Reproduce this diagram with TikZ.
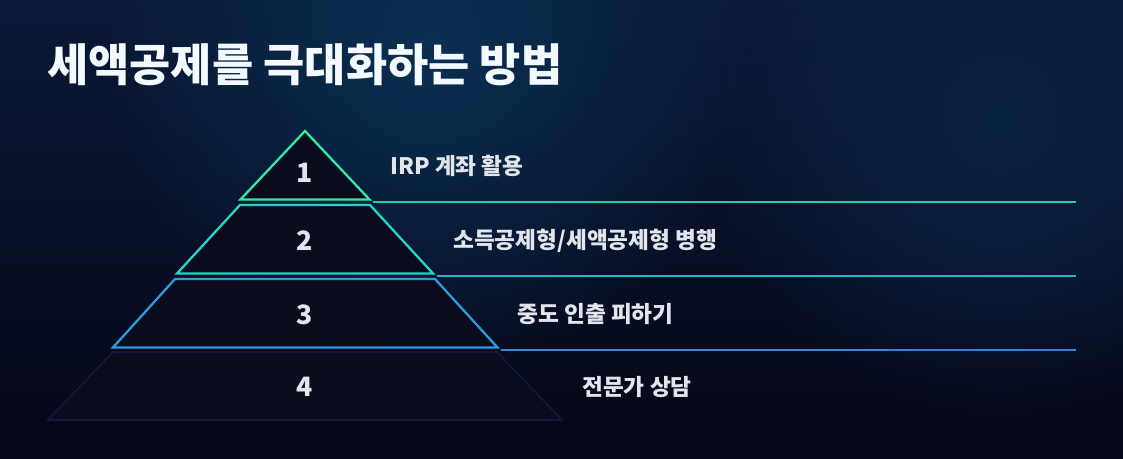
\documentclass[tikz,border=0pt]{standalone}
\usepackage{fontspec}
\newfontfamily\krfont{Noto Sans CJK KR}
\usepackage{xcolor}
\usetikzlibrary{fadings}

\definecolor{bgtop}{HTML}{0A1836}
\definecolor{bgbot}{HTML}{050717}
\definecolor{glowcol}{HTML}{0B3052}
\definecolor{glowright}{HTML}{0C2444}
\definecolor{layerfill}{HTML}{0A0B1C}
\definecolor{tierone}{HTML}{2EEBA6}
\definecolor{tiertwo}{HTML}{22D6C6}
\definecolor{tierthree}{HTML}{2C9BE0}
\definecolor{tierfour}{HTML}{0F1B3C}
\definecolor{guideone}{HTML}{20CFA6}
\definecolor{guidetwo}{HTML}{1FB9C9}
\definecolor{guidethree}{HTML}{3586CF}
\definecolor{labeltext}{HTML}{E3E5EC}
\definecolor{titletext}{HTML}{F2F9FF}

\tikzfading[name=glowfade, inner color=transparent!0, outer color=transparent!100]

\begin{document}
\begin{tikzpicture}[
    x=0.75pt, y=-0.75pt,
    font=\krfont,
    layer/.style={
        fill=layerfill,
        line width=1.7pt,
        line join=miter
    },
    tiernum/.style={
        inner sep=0pt,
        font=\krfont\bfseries\fontsize{20}{22}\selectfont,
        text=labeltext
    },
    tierlabel/.style={
        anchor=west,
        inner sep=0pt,
        font=\krfont\bfseries\fontsize{17}{20}\selectfont,
        text=labeltext
    },
    guide/.style={
        line width=1.5pt
    }
]

% =========================================================
% Background
% =========================================================
\useasboundingbox (0,0) rectangle (1123,458);
\shade[top color=bgtop, bottom color=bgbot] (0,0) rectangle (1123,458);
\begin{scope}
    \clip (0,0) rectangle (1123,458);
    \fill[glowcol, path fading=glowfade] (430,40) circle (330);
    \fill[glowright, path fading=glowfade] (1000,120) circle (300);
\end{scope}

% =========================================================
% Title
% =========================================================
\node[anchor=west, inner sep=0pt, text=titletext,
      font=\krfont\bfseries\fontsize{33.6}{38}\selectfont] (title) at (47,64.5)
{세액공제를 극대화하는 방법};

% =========================================================
% Pyramid layers
% =========================================================
\coordinate (t1apex)  at (305,131);
\coordinate (t1left)  at (240.5,199.5);
\coordinate (t1right) at (369.5,199.5);

\coordinate (t2tl) at (240,205);
\coordinate (t2tr) at (370,205);
\coordinate (t2bl) at (177,273.5);
\coordinate (t2br) at (433,273.5);

\coordinate (t3tl) at (175,279);
\coordinate (t3tr) at (435,279);
\coordinate (t3bl) at (113,347.5);
\coordinate (t3br) at (497.5,347.5);

\coordinate (t4tl) at (113,352);
\coordinate (t4tr) at (497,352);
\coordinate (t4bl) at (48,420);
\coordinate (t4br) at (562,420);

\draw[layer, draw=tierfour, line width=1.2pt] (t4tl) -- (t4tr) -- (t4br) -- (t4bl) -- cycle;
\draw[layer, draw=tierthree] (t3tl) -- (t3tr) -- (t3br) -- (t3bl) -- cycle;
\draw[layer, draw=tiertwo] (t2tl) -- (t2tr) -- (t2br) -- (t2bl) -- cycle;
\draw[layer, draw=tierone] (t1apex) -- (t1right) -- (t1left) -- cycle;

% =========================================================
% Guide lines
% =========================================================
\coordinate (g1start) at (373,201.5);
\coordinate (g1end)   at (1076,201.5);
\coordinate (g2start) at (437,275.5);
\coordinate (g2end)   at (1076,275.5);
\coordinate (g3start) at (501,349.5);
\coordinate (g3end)   at (1076,349.5);

\draw[guide, draw=guideone]   (g1start) -- (g1end);
\draw[guide, draw=guidetwo]   (g2start) -- (g2end);
\draw[guide, draw=guidethree] (g3start) -- (g3end);

% =========================================================
% Tier numbers
% =========================================================
\node[tiernum] (num1) at (305,173) {1};
\node[tiernum] (num2) at (305,240.5) {2};
\node[tiernum] (num3) at (305,314.5) {3};
\node[tiernum] (num4) at (305,387) {4};

% =========================================================
% Tier labels
% =========================================================
\node[tierlabel] (label1) at (390,166) {IRP 계좌 활용};
\node[tierlabel] (label2) at (453,241) {소득공제형/세액공제형 병행};
\node[tierlabel] (label3) at (517,314.5) {중도 인출 피하기};
\node[tierlabel] (label4) at (582,387) {전문가 상담};

\end{tikzpicture}
\end{document}
